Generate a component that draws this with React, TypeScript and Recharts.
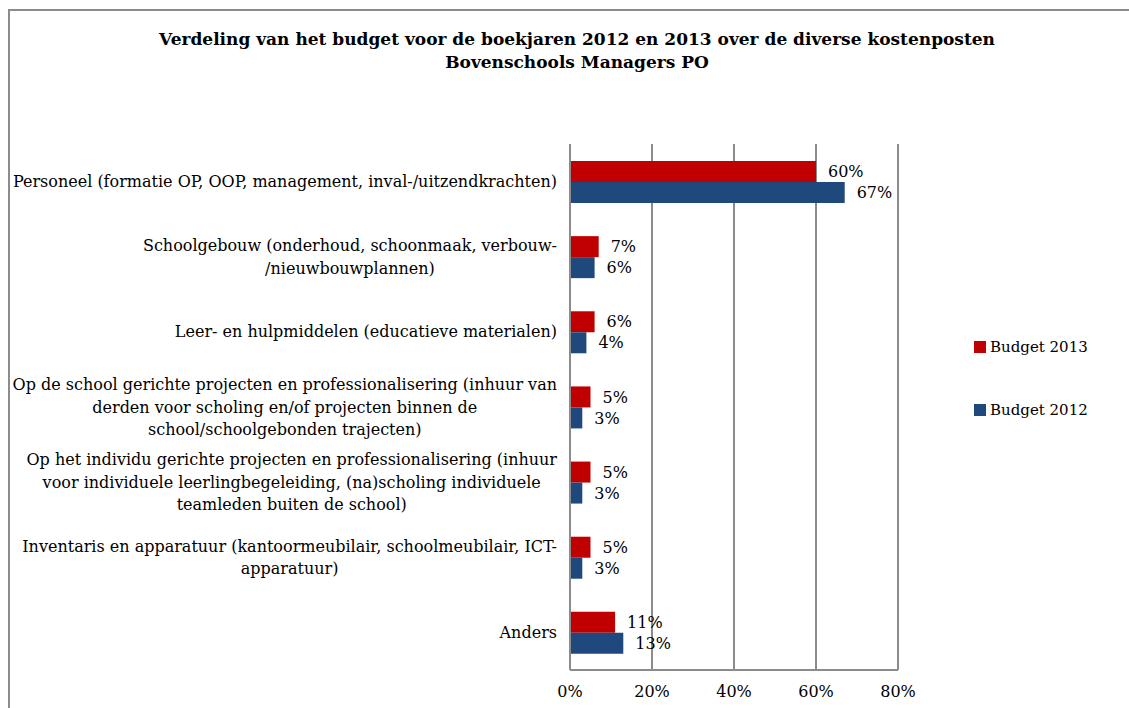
import { Bar, BarChart, CartesianGrid, LabelList, XAxis, YAxis } from 'recharts'

const categories = [
  'Personeel (formatie OP, OOP, management, inval-/uitzendkrachten)',
  'Schoolgebouw (onderhoud, schoonmaak, verbouw-\n/nieuwbouwplannen)',
  'Leer- en hulpmiddelen (educatieve materialen)',
  'Op de school gerichte projecten en professionalisering (inhuur van\nderden voor scholing en/of projecten binnen de\nschool/schoolgebonden trajecten)',
  'Op het individu gerichte projecten en professionalisering (inhuur\nvoor individuele leerlingbegeleiding, (na)scholing individuele\nteamleden buiten de school)',
  'Inventaris en apparatuur (kantoormeubilair, schoolmeubilair, ICT-\napparatuur)',
  'Anders',
]

const budget2013 = [60, 7, 6, 5, 5, 5, 11]
const budget2012 = [67, 6, 4, 3, 3, 3, 13]

const xTicks = [0, 20, 40, 60, 80]

const rows = categories.map((name, i) => ({
  name,
  b2013: budget2013[i],
  b2012: budget2012[i],
}))

const FONT = "'DejaVu Serif', serif"
const RED = '#c00000'
const BLUE = '#1f497d'
const GRID = '#8c8c8c'
const LABEL_RIGHT = 557
const LINE_H = 22.5

let ctx: CanvasRenderingContext2D | null = null
function measure(text: string) {
  if (!ctx) {
    ctx = document.createElement('canvas').getContext('2d')
    if (ctx) ctx.font = `16px ${FONT}`
  }
  return ctx ? ctx.measureText(text).width : text.length * 8.5
}

function CategoryTick({ y, payload }: { y?: number; payload?: { value: string } }) {
  const lines = (payload?.value ?? '').split('\n')
  const maxW = Math.max(...lines.map(measure))
  const cx = LABEL_RIGHT - maxW / 2
  const startY = (y ?? 0) - ((lines.length - 1) * LINE_H) / 2

  return (
    <text textAnchor="middle" fontFamily={FONT} fontSize={16} fill="#000">
      {lines.map((line, i) => (
        <tspan key={i} x={cx} y={startY + i * LINE_H} dy="0.35em">
          {line}
        </tspan>
      ))}
    </text>
  )
}

function LegendItem({ color, label, top }: { color: string; label: string; top: number }) {
  return (
    <div style={{ position: 'absolute', left: 974, top, display: 'flex', alignItems: 'center' }}>
      <span style={{ width: 12, height: 12, background: color, marginRight: 4 }} />
      <span style={{ fontFamily: FONT, fontSize: 15, color: '#000' }}>{label}</span>
    </div>
  )
}

export default function App() {
  return (
    <div
      style={{
        position: 'absolute',
        left: 0,
        top: 0,
        width: 1129,
        height: 708,
        background: '#fff',
        overflow: 'hidden',
      }}
    >
      <div
        style={{
          position: 'absolute',
          left: 8,
          top: 9,
          width: 1129,
          height: 708,
          borderTop: `2px solid ${GRID}`,
          borderLeft: `2px solid ${GRID}`,
        }}
      />
      <div
        style={{
          position: 'absolute',
          left: 0,
          top: 28,
          width: 1154,
          textAlign: 'center',
          fontFamily: FONT,
          fontWeight: 'bold',
          fontSize: 17,
          lineHeight: '23px',
          color: '#000',
        }}
      >
        Verdeling van het budget voor de boekjaren 2012 en 2013 over de diverse kostenposten
        <br />
        Bovenschools Managers PO
      </div>

      <div style={{ position: 'absolute', left: 0, top: 0 }}>
        <BarChart
          width={1129}
          height={708}
          data={rows}
          layout="vertical"
          margin={{ top: 144, right: 231, bottom: 0, left: 0 }}
          barSize={21}
          barGap={0}
        >
          <CartesianGrid vertical horizontal={false} stroke={GRID} strokeWidth={2} />
          <XAxis
            type="number"
            domain={[0, 80]}
            ticks={xTicks}
            tickFormatter={(v) => `${v}%`}
            height={38}
            axisLine={{ stroke: GRID, strokeWidth: 2 }}
            tickLine={false}
            tickMargin={10}
            tick={{ fill: '#000', fontSize: 16, fontFamily: FONT }}
          />
          <YAxis
            type="category"
            dataKey="name"
            width={570}
            axisLine={{ stroke: GRID, strokeWidth: 2 }}
            tickLine={false}
            tick={<CategoryTick />}
            interval={0}
          />
          <Bar dataKey="b2013" fill={RED} isAnimationActive={false}>
            <LabelList
              dataKey="b2013"
              position="right"
              offset={12}
              formatter={(v: number) => `${v}%`}
              fill="#000"
              fontSize={16}
              fontFamily={FONT}
            />
          </Bar>
          <Bar dataKey="b2012" fill={BLUE} isAnimationActive={false}>
            <LabelList
              dataKey="b2012"
              position="right"
              offset={12}
              formatter={(v: number) => `${v}%`}
              fill="#000"
              fontSize={16}
              fontFamily={FONT}
            />
          </Bar>
        </BarChart>
      </div>

      <LegendItem color={RED} label="Budget 2013" top={338} />
      <LegendItem color={BLUE} label="Budget 2012" top={401} />
    </div>
  )
}
